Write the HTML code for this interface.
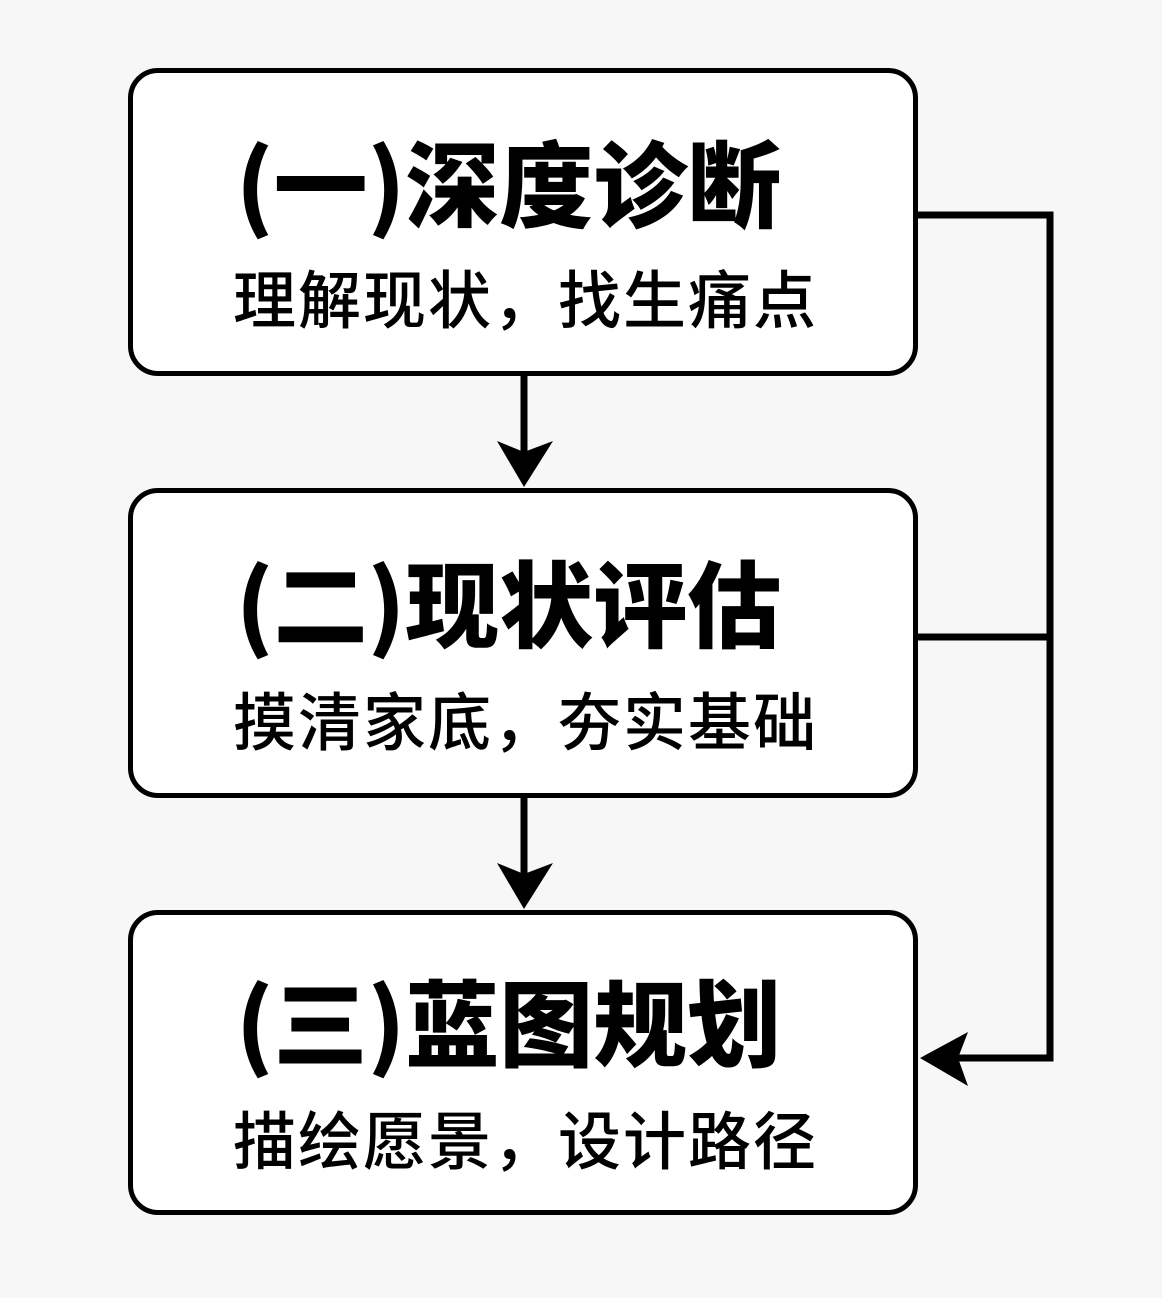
<!DOCTYPE html>
<html><head><meta charset="utf-8"><style>
body{margin:0;width:1162px;height:1298px;background:#f7f7f7;position:relative;overflow:hidden;font-family:"Liberation Sans","Noto Sans CJK SC",sans-serif;}
.box{position:absolute;left:128px;width:780px;border:5px solid #000;border-radius:30px;background:#fff;}
.t{position:absolute;left:103px;font-family:"Noto Sans CJK SC",sans-serif;font-weight:900;font-size:94px;line-height:1;letter-spacing:0px;white-space:nowrap;color:#000;}
.s{position:absolute;left:100px;font-family:"Noto Sans CJK SC",sans-serif;font-weight:500;font-size:63px;line-height:1;letter-spacing:2px;white-space:nowrap;color:#000;}
svg{position:absolute;left:0;top:0}
</style></head><body>
<div class="box" style="top:68px;height:298px"><div class="t" style="top:60px">(一)深度诊断</div><div class="s" style="top:192px">理解现状，找生痛点</div></div>
<div class="box" style="top:488px;height:300px"><div class="t" style="top:60px">(二)现状评估</div><div class="s" style="top:194px">摸清家底，夯实基础</div></div>
<div class="box" style="top:910px;height:295px"><div class="t" style="top:57px">(三)蓝图规划</div><div class="s" style="top:191px">描绘愿景，设计路径</div></div>
<svg width="1162" height="1298">
<g fill="none" stroke="#000" stroke-width="7">
<polyline points="918,215 1050,215 1050,1058 955,1058"/>
<line x1="918" y1="637" x2="1050" y2="637"/>
<line x1="524" y1="376" x2="524" y2="460"/>
<line x1="524" y1="798" x2="524" y2="880"/>
</g>
<polygon points="920,1058 968,1032 958,1058 968,1086" fill="#000"/>
<polygon points="524,487 497,441 524,452 553,441" fill="#000"/>
<polygon points="524,909 497,863 524,874 553,863" fill="#000"/>
</svg>
</body></html>
